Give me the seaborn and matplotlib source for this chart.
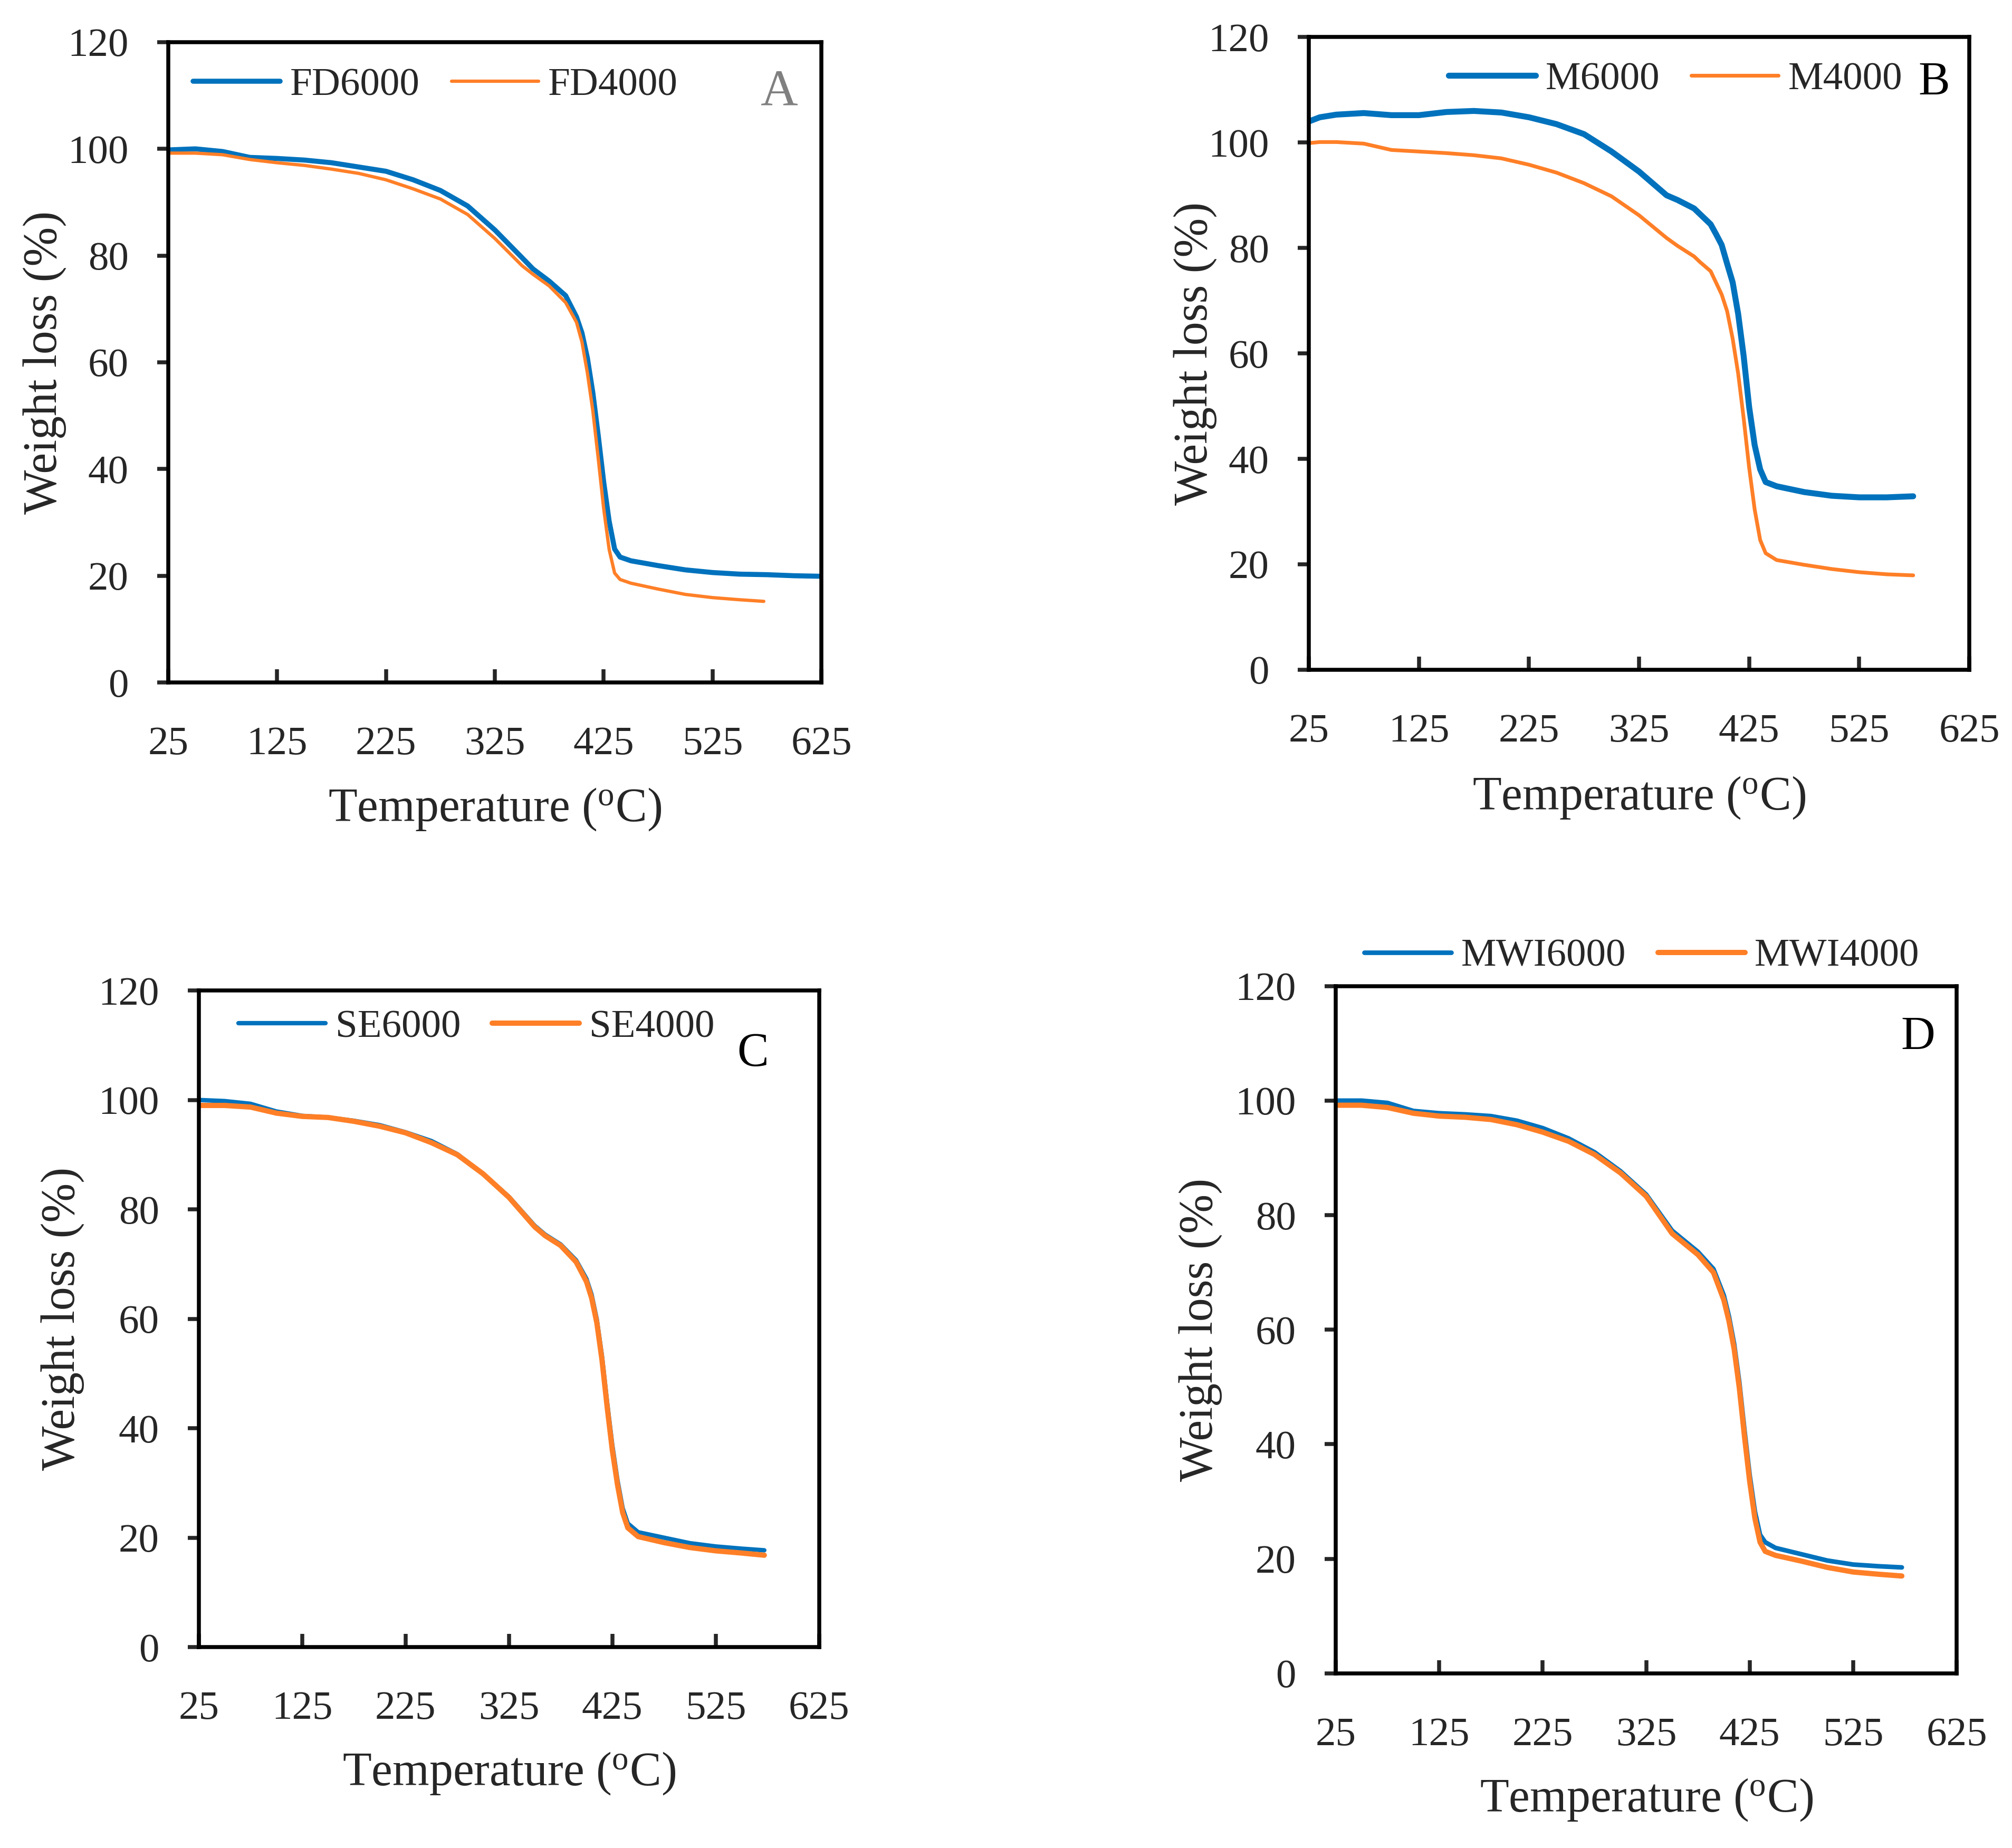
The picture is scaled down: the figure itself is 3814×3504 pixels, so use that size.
import seaborn as sns
import matplotlib.pyplot as plt

# TGA curves: temperature (oC) and weight (%)
fd6000_temp = [25, 50, 75, 100, 125, 150, 175, 200, 225, 250, 275, 300, 325, 350, 360, 375, 390, 400,
               405, 410, 415, 420, 425, 430, 435, 440, 450, 475, 500, 525, 550, 575, 600, 625]
fd6000 = [99.8, 100.0, 99.5, 98.4, 98.2, 97.9, 97.4, 96.6, 95.8, 94.2, 92.2, 89.3, 84.8, 79.6, 77.5, 75.2,
          72.5, 68.5, 65.5, 60.8, 54.3, 46.2, 37.5, 30.2, 25.0, 23.5, 22.8, 21.9, 21.1, 20.6, 20.3, 20.2,
          20.0, 19.9]
fd4000_temp = [25, 50, 75, 100, 125, 150, 175, 200, 225, 250, 275, 300, 325, 350, 360, 375, 390, 400,
               405, 410, 415, 420, 425, 430, 435, 440, 450, 475, 500, 525, 550, 572]
fd4000 = [99.2, 99.2, 98.9, 98.0, 97.4, 96.9, 96.2, 95.4, 94.2, 92.5, 90.6, 87.7, 83.2, 78.1, 76.5, 74.3,
          71.2, 67.5, 63.8, 58.0, 50.9, 41.9, 32.5, 24.9, 20.5, 19.3, 18.6, 17.5, 16.5, 15.9, 15.5, 15.2]

m_temp = [25, 35, 50, 75, 100, 125, 150, 175, 200, 225, 250, 275, 300, 325, 350, 360, 375, 380, 390,
          395, 400, 405, 410, 415, 420, 425, 430, 435, 440, 450, 475, 500, 525, 550, 574]
m6000 = [104.0, 104.8, 105.3, 105.6, 105.2, 105.2, 105.8, 106.0, 105.7, 104.8, 103.5, 101.6, 98.3, 94.5,
         90.0, 89.1, 87.5, 86.5, 84.5, 82.6, 80.6, 77.0, 73.5, 67.5, 59.5, 49.8, 42.6, 38.0, 35.6, 34.8,
         33.7, 33.0, 32.7, 32.7, 32.9]
m4000 = [99.9, 100.1, 100.1, 99.8, 98.6, 98.3, 98.0, 97.6, 97.0, 95.8, 94.3, 92.3, 89.8, 86.2, 81.9,
         80.4, 78.4, 77.4, 75.6, 73.4, 71.2, 68.0, 62.8, 56.2, 47.7, 38.3, 30.4, 24.6, 22.1, 20.8, 19.9,
         19.1, 18.5, 18.1, 17.9]

se_temp = [25, 50, 75, 100, 125, 150, 175, 200, 225, 250, 275, 300, 325, 350, 360, 375, 390, 400, 405,
           410, 415, 420, 425, 430, 435, 440, 450, 475, 500, 525, 550, 572]
se6000 = [100.0, 99.8, 99.3, 97.9, 97.1, 96.8, 96.2, 95.4, 94.1, 92.5, 90.1, 86.5, 82.3, 77.0, 75.4, 73.6,
          70.7, 67.3, 64.4, 59.9, 53.2, 44.7, 36.9, 30.5, 25.4, 22.6, 21.0, 20.0, 19.0, 18.4, 18.0, 17.7]
se4000 = [99.0, 99.0, 98.7, 97.6, 97.0, 96.8, 96.1, 95.2, 94.0, 92.2, 90.0, 86.5, 82.2, 76.8, 75.2, 73.4,
          70.4, 66.8, 63.8, 59.3, 52.5, 43.9, 36.0, 29.7, 24.6, 21.8, 20.2, 19.1, 18.2, 17.6, 17.2, 16.8]

mwi_temp = [25, 50, 75, 100, 125, 150, 175, 200, 225, 250, 275, 300, 325, 350, 375, 390, 400, 405, 410,
            415, 420, 425, 430, 435, 440, 450, 475, 500, 525, 550, 572]
mwi6000 = [100.0, 100.0, 99.6, 98.2, 97.8, 97.6, 97.3, 96.5, 95.2, 93.4, 91.0, 87.7, 83.6, 77.3, 73.6,
           70.6, 66.0, 62.3, 57.5, 50.8, 42.4, 34.6, 28.3, 24.2, 22.9, 21.9, 20.8, 19.7, 19.0, 18.7, 18.5]
mwi4000 = [99.2, 99.2, 98.8, 97.8, 97.3, 97.1, 96.7, 95.8, 94.5, 92.9, 90.6, 87.4, 83.3, 76.8, 73.1,
           70.0, 65.2, 61.5, 56.6, 49.8, 41.3, 33.5, 27.1, 22.9, 21.3, 20.6, 19.6, 18.5, 17.7, 17.3, 17.0]

x_ticks = [25, 125, 225, 325, 425, 525, 625]
y_ticks = [0, 20, 40, 60, 80, 100, 120]

blue = '#0072BD'
orange = '#FF7F27'

sns.set_style('ticks')
plt.rcParams['font.family'] = ['Liberation Serif', 'DejaVu Serif']
plt.rcParams['mathtext.fontset'] = 'custom'
plt.rcParams['mathtext.rm'] = 'Liberation Serif'

fig = plt.figure(figsize=(3814 / 300, 3504 / 300), dpi=300)

# one entry per panel: axes rect, the two series, letter, and where things sit
panels = [
    dict(rect=[0.0836, 0.6307, 0.3247, 0.3465],
         s1=(fd6000_temp, fd6000, 'FD6000'), s2=(fd4000_temp, fd4000, 'FD4000'),
         lw=(2.3, 1.5), letter='A', letter_color='#808080', letter_size=23.5,
         letter_xy=(0.9356, 0.922), leg_xy=(0.038, 0.932), ylab_x=-0.189, xlab_y=-0.1985),
    dict(rect=[0.6505, 0.6376, 0.3283, 0.3423],
         s1=(m_temp, m6000, 'M6000'), s2=(m_temp, m4000, 'M4000'),
         lw=(2.7, 1.7), letter='B', letter_color='black', letter_size=21.5,
         letter_xy=(0.9465, 0.9275), leg_xy=(0.2117, 0.933), ylab_x=-0.172, xlab_y=-0.2025),
    dict(rect=[0.0988, 0.1087, 0.3083, 0.3553],
         s1=(se_temp, se6000, 'SE6000'), s2=(se_temp, se4000, 'SE4000'),
         lw=(2.0, 2.4), letter='C', letter_color='black', letter_size=21.5,
         letter_xy=(0.893, 0.903), leg_xy=(0.064, 0.944), ylab_x=-0.220, xlab_y=-0.192),
    dict(rect=[0.6639, 0.0945, 0.3086, 0.3719],
         s1=(mwi_temp, mwi6000, 'MWI6000'), s2=(mwi_temp, mwi4000, 'MWI4000'),
         lw=(2.1, 2.4), letter='D', letter_color='black', letter_size=21.5,
         letter_xy=(0.938, 0.925), leg_xy=(0.046, 1.043), ylab_x=-0.218, xlab_y=-0.184),
]

for p in panels:
    ax = fig.add_axes(p['rect'])
    t1, w1, lab1 = p['s1']
    t2, w2, lab2 = p['s2']
    sns.lineplot(x=t1, y=w1, ax=ax, color=blue, linewidth=p['lw'][0], label=lab1, estimator=None)
    sns.lineplot(x=t2, y=w2, ax=ax, color=orange, linewidth=p['lw'][1], label=lab2, estimator=None)
    for ln in ax.get_lines():
        ln.set_solid_capstyle('round')
        ln.set_solid_joinstyle('round')

    ax.set_xlim(25, 625)
    ax.set_ylim(0, 120)
    ax.set_xticks(x_ticks)
    ax.set_yticks(y_ticks)
    ax.tick_params(axis='x', direction='in', length=6, width=1.8, pad=20, labelsize=18.5)
    ax.tick_params(axis='y', direction='out', length=5, width=1.8, pad=13, labelsize=18.5)
    for sp in ax.spines.values():
        sp.set_visible(True)
        sp.set_linewidth(1.8)
        sp.set_color('black')

    ax.set_xlabel(r'Temperature ($\mathregular{^o}$C)', fontsize=21.5, va='center')
    ax.set_ylabel('Weight loss (%)', fontsize=21.5, va='center')
    ax.xaxis.set_label_coords(0.5, p['xlab_y'])
    ax.yaxis.set_label_coords(p['ylab_x'], 0.5)

    ax.legend(loc='center left', bbox_to_anchor=p['leg_xy'], ncol=2, frameon=False,
              borderpad=0, borderaxespad=0, handlelength=2.2, handletextpad=0.25,
              columnspacing=0.8, fontsize=18)
    ax.text(p['letter_xy'][0], p['letter_xy'][1], p['letter'], transform=ax.transAxes,
            ha='center', va='center', fontsize=p['letter_size'], color=p['letter_color'])

fig.savefig('out.png', dpi=300)
